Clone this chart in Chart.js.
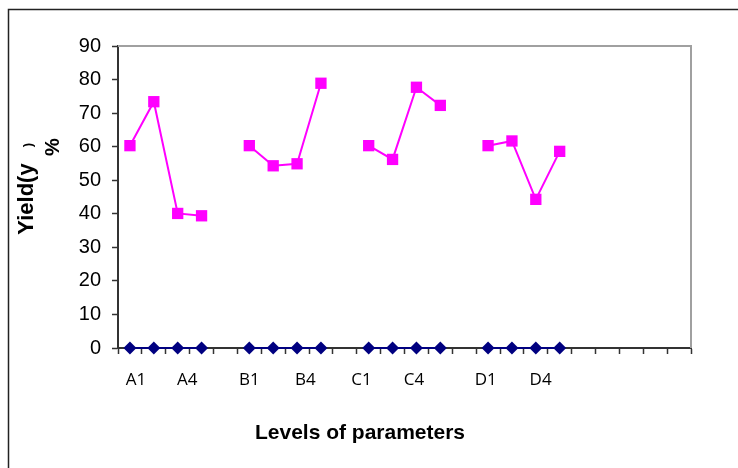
<!DOCTYPE html>
<html>
<head>
<meta charset="utf-8">
<script src="https://cdn.jsdelivr.net/npm/chart.js@4.4.0/dist/chart.umd.min.js"></script>
<style>
  html, body { margin: 0; padding: 0; background: #fff; }
  #wrap { width: 738px; height: 468px; }
</style>
</head>
<body>
<div id="wrap"><canvas id="yieldChart" width="738" height="468"></canvas></div>
<script>
// slots along the x axis: four levels per parameter, one empty slot between groups
const SLOTS = ["A1", "A2", "A3", "A4", "", "B1", "B2", "B3", "B4", "", "C1", "C2", "C3", "C4", "", "D1", "D2", "D3", "D4"];
const SLOT_COUNT = 24;

// yield (%) per level, null = gap
const YIELD = [60.3, 73.4, 40.1, 39.4, null, 60.3, 54.3, 54.9, 78.9, null, 60.3, 56.2, 77.7, 72.3, null, 60.3, 61.7, 44.3, 58.6];
// second series sitting on zero
const BASE = [0, 0, 0, 0, null, 0, 0, 0, 0, null, 0, 0, 0, 0, null, 0, 0, 0, 0];

// tick labels as shown under the axis and where they sit (in slot units)
const TICK_LABELS = ["A1", "A4", "B1", "B4", "C1", "C4", "D1", "D4"];
const TICK_AT = [0.25, 2.4, 5.0, 7.35, 9.7, 11.9, 14.9, 17.2];

const Y_TICKS = [0, 10, 20, 30, 40, 50, 60, 70, 80, 90];

function toPoints(arr) {
    return arr.map((v, i) => ({ x: i, y: v }));
}

function isBoundary(v) {
    return Math.abs((v + 0.5) - Math.round(v + 0.5)) < 1e-6;
}

const frame = {
    id: "frame",
    beforeDatasetsDraw(chart) {
        const ctx = chart.ctx;
        const a = chart.chartArea;
        ctx.save();
        // light border on top and right of the plot
        ctx.strokeStyle = "#a0a0a0";
        ctx.lineWidth = 2;
        ctx.beginPath();
        ctx.moveTo(a.left, a.top);
        ctx.lineTo(a.right, a.top);
        ctx.lineTo(a.right, a.bottom);
        ctx.stroke();
        ctx.restore();
    },
    afterDraw(chart) {
        const ctx = chart.ctx;
        ctx.save();
        // outer chart border (cut off at right and bottom)
        ctx.strokeStyle = "#222";
        ctx.lineWidth = 1.5;
        ctx.beginPath();
        ctx.moveTo(738, 9.5);
        ctx.lineTo(8.5, 9.5);
        ctx.lineTo(8.5, 468);
        ctx.stroke();

        ctx.fillStyle = "#000";
        // x title
        ctx.font = "bold 21px 'Liberation Sans', Arial, sans-serif";
        ctx.textAlign = "center";
        ctx.textBaseline = "middle";
        ctx.fillText("Levels of parameters", 360, 433);

        // y title
        ctx.font = "bold 22px 'Liberation Sans', Arial, sans-serif";
        ctx.save();
        ctx.translate(27, 199);
        ctx.rotate(-Math.PI / 2);
        ctx.fillText("Yield(y", 0, 0);
        ctx.restore();

        ctx.font = "bold 13px 'Liberation Sans', Arial, sans-serif";
        ctx.save();
        ctx.translate(28, 145);
        ctx.rotate(-Math.PI / 2);
        ctx.fillText(")", 0, 0);
        ctx.restore();

        ctx.font = "bold 20px 'Liberation Sans', Arial, sans-serif";
        ctx.save();
        ctx.translate(53, 147);
        ctx.rotate(-Math.PI / 2);
        ctx.fillText("%", 0, 0);
        ctx.restore();
        ctx.restore();
    }
};

const ctx = document.getElementById("yieldChart").getContext("2d");
const yieldChart = new Chart(ctx, {
    type: "line",
    data: {
        datasets: [{
            label: "Yield",
            data: toPoints(YIELD),
            borderColor: "#ff00ff",
            backgroundColor: "#ff00ff",
            borderWidth: 2,
            pointStyle: "rect",
            pointRadius: 8,
            pointBorderWidth: 0,
            spanGaps: false,
            clip: false,
            tension: 0
        }, {
            label: "Base",
            data: toPoints(BASE),
            borderColor: "#000080",
            backgroundColor: "#000080",
            borderWidth: 2,
            pointStyle: "rectRot",
            pointRadius: 6.5,
            pointBorderWidth: 0,
            spanGaps: false,
            clip: false,
            tension: 0
        }]
    },
    options: {
        responsive: false,
        animation: false,
        devicePixelRatio: 1,
        layout: { padding: { left: 0, top: 46, right: 47, bottom: 0 } },
        plugins: {
            legend: { display: false },
            tooltip: { enabled: false }
        },
        scales: {
            x: {
                type: "linear",
                min: -0.5,
                max: SLOT_COUNT - 0.5,
                afterFit: (scale) => { scale.height = 120; },
                afterBuildTicks: (scale) => {
                    const ticks = [];
                    for (let i = 0; i <= SLOT_COUNT; i++) ticks.push({ value: i - 0.5 });
                    TICK_AT.forEach(v => ticks.push({ value: v }));
                    ticks.sort((a, b) => a.value - b.value);
                    scale.ticks = ticks;
                },
                grid: {
                    drawOnChartArea: false,
                    tickLength: 6,
                    tickWidth: 1.5,
                    tickColor: (c) => (c.tick && isBoundary(c.tick.value)) ? "#333" : "rgba(0,0,0,0)"
                },
                border: { color: "#333", width: 2 },
                ticks: {
                    autoSkip: false,
                    maxRotation: 0,
                    minRotation: 0,
                    padding: 16,
                    color: "#000",
                    font: { family: "'Open Sans', sans-serif", size: 17 },
                    callback: (value) => {
                        const k = TICK_AT.findIndex(t => Math.abs(t - value) < 1e-6);
                        return k >= 0 ? TICK_LABELS[k] : "";
                    }
                }
            },
            y: {
                min: 0,
                max: 90,
                afterFit: (scale) => { scale.width = 118; },
                afterBuildTicks: (scale) => {
                    scale.ticks = Y_TICKS.map(v => ({ value: v }));
                },
                grid: {
                    drawOnChartArea: false,
                    tickLength: 6,
                    tickWidth: 1.5,
                    tickColor: "#333"
                },
                border: { color: "#333", width: 2 },
                ticks: {
                    padding: 11,
                    color: "#000",
                    font: { family: "'Liberation Sans', Arial, sans-serif", size: 20 }
                }
            }
        }
    },
    plugins: [frame]
});
</script>
</body>
</html>
